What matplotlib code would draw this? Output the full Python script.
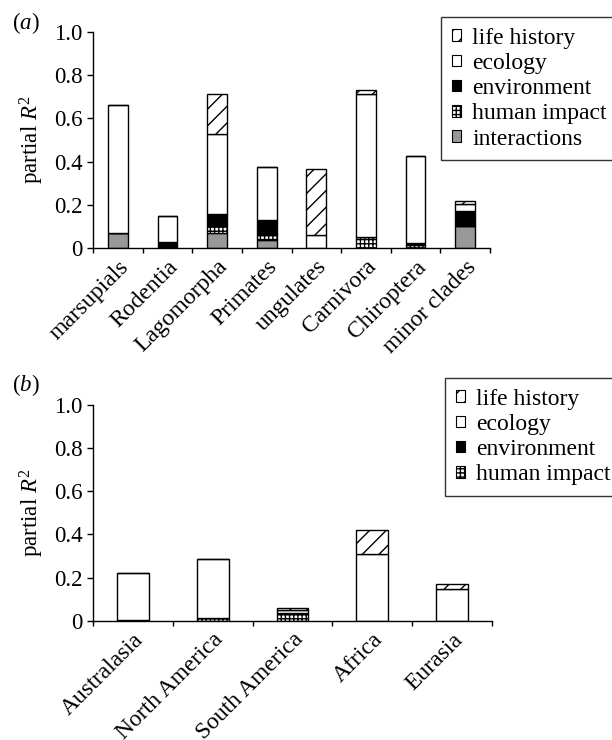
import matplotlib
matplotlib.use("Agg")
import matplotlib.pyplot as plt
import numpy as np
from matplotlib.patches import Patch

plt.rcParams['font.family'] = 'Liberation Serif'
plt.rcParams['mathtext.fontset'] = 'custom'
plt.rcParams['mathtext.rm'] = 'Liberation Serif'
plt.rcParams['mathtext.it'] = 'Liberation Serif:italic'
plt.rcParams['hatch.linewidth'] = 1.0

# ---- data: panel (a) ----
categories_a = ['marsupials', 'Rodentia', 'Lagomorpha', 'Primates', 'ungulates',
                'Carnivora', 'Chiroptera', 'minor clades']
interactions_a = [0.068, 0.0, 0.070, 0.037, 0.0, 0.0, 0.0, 0.104]
human_a = [0.0, 0.005, 0.030, 0.023, 0.0, 0.051, 0.014, 0.0]
environment_a = [0.0, 0.024, 0.056, 0.068, 0.0, 0.0, 0.009, 0.069]
ecology_a = [0.592, 0.120, 0.370, 0.245, 0.060, 0.662, 0.401, 0.032]
life_a = [0.0, 0.0, 0.187, 0.002, 0.306, 0.017, 0.004, 0.014]

# ---- data: panel (b) ----
categories_b = ['Australasia', 'North America', 'South America', 'Africa', 'Eurasia']
human_b = [0.0, 0.014, 0.032, 0.0, 0.0]
environment_b = [0.003, 0.0, 0.005, 0.0, 0.0]
ecology_b = [0.219, 0.270, 0.012, 0.311, 0.145]
life_b = [0.0, 0.0, 0.008, 0.109, 0.025]

yticks = [0, 0.2, 0.4, 0.6, 0.8, 1.0]
ytick_labels = ['0', '0.2', '0.4', '0.6', '0.8', '1.0']

GRAY = '#989898'
styles = {
    'interactions': dict(facecolor=GRAY, hatch=None),
    'human impact': dict(facecolor='white', hatch='++++'),
    'environment': dict(facecolor='black', hatch=None),
    'ecology': dict(facecolor='white', hatch=None),
    'life history': dict(facecolor='white', hatch='//'),
}

FS = 16.5
FS_CAT = 17
FS_LEG = 17

fig = plt.figure(figsize=(6.12, 7.4), dpi=100)


def draw_panel(ax, cats, series, legend_order, legend_anchor):
    x = np.arange(len(cats))
    bottom = np.zeros(len(cats))
    for name, vals in series:
        vals = np.array(vals)
        st = styles[name]
        ax.bar(x, vals, width=0.4, bottom=bottom, color=st['facecolor'],
               edgecolor='black', linewidth=1.0, hatch=st['hatch'], zorder=2)
        bottom = bottom + vals
    ax.set_xlim(-0.5, len(cats) - 0.5)
    ax.set_ylim(0, 1.0)
    ax.spines['top'].set_visible(False)
    ax.spines['right'].set_visible(False)
    ax.spines['left'].set_linewidth(1.0)
    ax.spines['bottom'].set_linewidth(1.0)
    ax.set_yticks(yticks)
    ax.set_yticklabels(ytick_labels, fontsize=FS)
    ax.tick_params(axis='y', direction='out', length=4.3, width=1.0, pad=3)
    # boundary ticks (major) and category labels (minor)
    ax.set_xticks(np.arange(len(cats) + 1) - 0.5)
    ax.set_xticklabels([])
    ax.tick_params(axis='x', which='major', direction='out', length=3.8, width=1.0)
    ax.set_xticks(x, minor=True)
    ax.set_xticklabels(cats, minor=True, rotation=45, ha='right',
                       rotation_mode='anchor', fontsize=FS_CAT)
    ax.tick_params(axis='x', which='minor', length=0, pad=6)
    ax.set_ylabel('partial $R^2$', fontsize=FS, labelpad=6)
    handles = [Patch(facecolor=styles[n]['facecolor'], edgecolor='black',
                     hatch=styles[n]['hatch'], linewidth=0.8, label=n)
               for n in legend_order]
    leg = fig.legend(handles=handles, loc='upper left', bbox_to_anchor=legend_anchor,
                     bbox_transform=fig.transFigure, fontsize=FS_LEG,
                     frameon=True, fancybox=False, edgecolor='black',
                     handlelength=0.38, handleheight=0.38, handletextpad=0.5,
                     labelspacing=0.18, borderpad=0.45, borderaxespad=0)
    leg.get_frame().set_linewidth(1.0)


ax_a = fig.add_axes([93 / 612, 1 - 248 / 740, (490 - 93) / 612, (248 - 32) / 740])
draw_panel(ax_a, categories_a,
           [('interactions', interactions_a), ('human impact', human_a),
            ('environment', environment_a), ('ecology', ecology_a),
            ('life history', life_a)],
           ['life history', 'ecology', 'environment', 'human impact', 'interactions'],
           (441 / 612, 1 - 17 / 740))

ax_b = fig.add_axes([93 / 612, 1 - 620.7 / 740, (492 - 93) / 612, (620.7 - 405) / 740])
draw_panel(ax_b, categories_b,
           [('human impact', human_b), ('environment', environment_b),
            ('ecology', ecology_b), ('life history', life_b)],
           ['life history', 'ecology', 'environment', 'human impact'],
           (445 / 612, 1 - 378 / 740))

fig.text(12 / 612, 1 - 23 / 740, '($\\it{a}$)', fontsize=FS, va='center', ha='left')
fig.text(12 / 612, 1 - 385 / 740, '($\\it{b}$)', fontsize=FS, va='center', ha='left')

fig.savefig('out.png', dpi=100)
